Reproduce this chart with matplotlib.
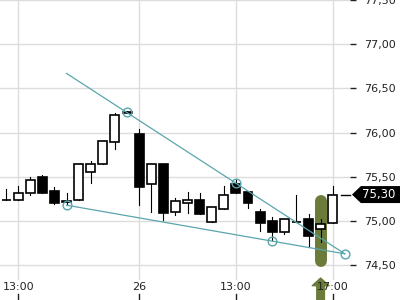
import matplotlib
matplotlib.use("Agg")
import matplotlib.pyplot as plt
from matplotlib.patches import Rectangle, Polygon
from matplotlib.ticker import FuncFormatter

# ---- data ----
opens  = [75.24, 75.24, 75.32, 75.50, 75.34, 75.23, 75.24, 75.56, 75.64, 75.90,
          76.235, 75.98, 75.42, 75.64, 75.10, 75.20, 75.24, 74.99, 75.14, 75.42,
          75.33, 75.10, 75.00, 74.88, 74.99, 75.02, 74.91, 74.98]
highs  = [75.36, 75.40, 75.50, 75.52, 75.38, 75.32, 75.65, 75.68, 75.91, 76.22,
          76.24, 76.04, 75.64, 75.65, 75.26, 75.33, 75.32, 75.16, 75.40, 75.46,
          75.33, 75.14, 75.05, 75.02, 75.29, 75.08, 75.02, 75.40]
lows   = [75.24, 75.24, 75.29, 75.32, 75.19, 75.18, 75.24, 75.43, 75.64, 75.81,
          76.22, 75.18, 75.10, 75.01, 75.07, 75.09, 75.08, 74.99, 75.14, 75.32,
          75.15, 74.89, 74.79, 74.85, 74.99, 74.71, 74.76, 74.98]
closes = [75.24, 75.32, 75.47, 75.32, 75.20, 75.215, 75.64, 75.64, 75.91, 76.20,
          76.225, 75.38, 75.64, 75.09, 75.23, 75.24, 75.08, 75.16, 75.30, 75.32,
          75.20, 74.98, 74.88, 75.02, 74.99, 74.83, 74.97, 75.30]

xtick_pos = [1, 11, 19, 27]
xtick_labels = ["13:00", "26", "13:00", "17:00"]
yticks = [74.5, 75.0, 75.5, 76.0, 76.5, 77.0, 77.5]

upper_line_x = [5, 28]
upper_line_y = [76.67, 74.63]
lower_line_x = [5, 28]
lower_line_y = [75.18, 74.63]
circle_x = [10, 19, 5, 22, 28]
circle_y = [76.23, 75.43, 75.18, 74.77, 74.63]

highlight_idx = 26
highlight_range = [74.48, 75.29]
last_price = 75.30

# ---- style ----
teal = "#5aa5ad"
olive = "#6b7b3a"
txt = "#222222"
grid = "#dcdcdc"

fig = plt.figure(figsize=(4, 3), dpi=100)
ax = fig.add_axes([0, 20/300, 350/400, 280/300])
ax.set_xlim(-0.5, 28.43)
ax.set_ylim(74.334, 77.494)
for s in ax.spines.values():
    s.set_visible(False)
ax.set_axisbelow(True)

ax.set_yticks(yticks)
ax.yaxis.tick_right()
ax.yaxis.set_major_formatter(FuncFormatter(lambda v, p: f"{v:.2f}".replace(".", ",")))
ax.tick_params(axis="y", direction="out", length=4, width=1, colors=txt,
               labelsize=8, pad=6)
ax.set_xticks(xtick_pos)
ax.tick_params(axis="x", length=0, labelbottom=False)
ax.grid(True, color=grid, linewidth=1)

# highlight bar (rounded)
r = 6 / 88.6
ax.plot([highlight_idx, highlight_idx], [highlight_range[0] + r, highlight_range[1] - r],
        color=olive, linewidth=8.6, solid_capstyle="round", zorder=1)

# candles
w = 0.74
for i, (o, h, l, c) in enumerate(zip(opens, highs, lows, closes)):
    ax.plot([i, i], [l, h], color="black", linewidth=0.8, zorder=2)
    up = c >= o
    ax.add_patch(Rectangle((i - w/2, min(o, c)), w, abs(c - o),
                           facecolor="white" if up else "black",
                           edgecolor="black", linewidth=1.2, zorder=3))

# trend lines
ax.plot(upper_line_x, upper_line_y, color=teal, linewidth=0.9, zorder=4)
ax.plot(lower_line_x, lower_line_y, color=teal, linewidth=0.9, zorder=4)
ax.plot(circle_x, circle_y, linestyle="none", marker="o", markersize=6.3,
        markerfacecolor="none", markeredgecolor=teal, markeredgewidth=1, zorder=5,
        clip_on=False)

# x tick labels & marks
xt = ax.get_xaxis_transform()
for xp, lab in zip(xtick_pos, xtick_labels):
    ax.text(xp, -0.025, lab, transform=xt, ha="center", va="center",
            fontsize=8, color=txt, zorder=10, clip_on=False)
    ax.plot([xp, xp], [-0.05, -0.075], transform=xt, color=txt, linewidth=1,
            clip_on=False, zorder=10)

# arrow under highlighted candle
ax.annotate("", xy=(highlight_idx, 0.007), xycoords=xt,
            xytext=(highlight_idx, -0.08), textcoords=xt,
            arrowprops=dict(arrowstyle="simple,head_length=0.55,head_width=1.2,tail_width=0.55",
                            mutation_scale=10, color=olive, shrinkA=0, shrinkB=0),
            annotation_clip=False, zorder=0.3)

# current price marker
yt = ax.get_yaxis_transform()
ax.plot([0.974, 1.0], [last_price, last_price], transform=yt, color="black",
        linewidth=1, clip_on=False, zorder=6)
hh = 8.5 / 88.6
ax.add_patch(Polygon([(1.0057, last_price), (1.031, last_price + hh), (1.15, last_price + hh),
                      (1.15, last_price - hh), (1.031, last_price - hh)],
                     closed=True, transform=yt, facecolor="black", edgecolor="none",
                     clip_on=False, zorder=6))
ax.text(1.083, last_price, f"{last_price:.2f}".replace(".", ","), transform=yt,
        ha="center", va="center", fontsize=8.5, color="white", zorder=7, clip_on=False)

fig.savefig("out.png", dpi=100)
